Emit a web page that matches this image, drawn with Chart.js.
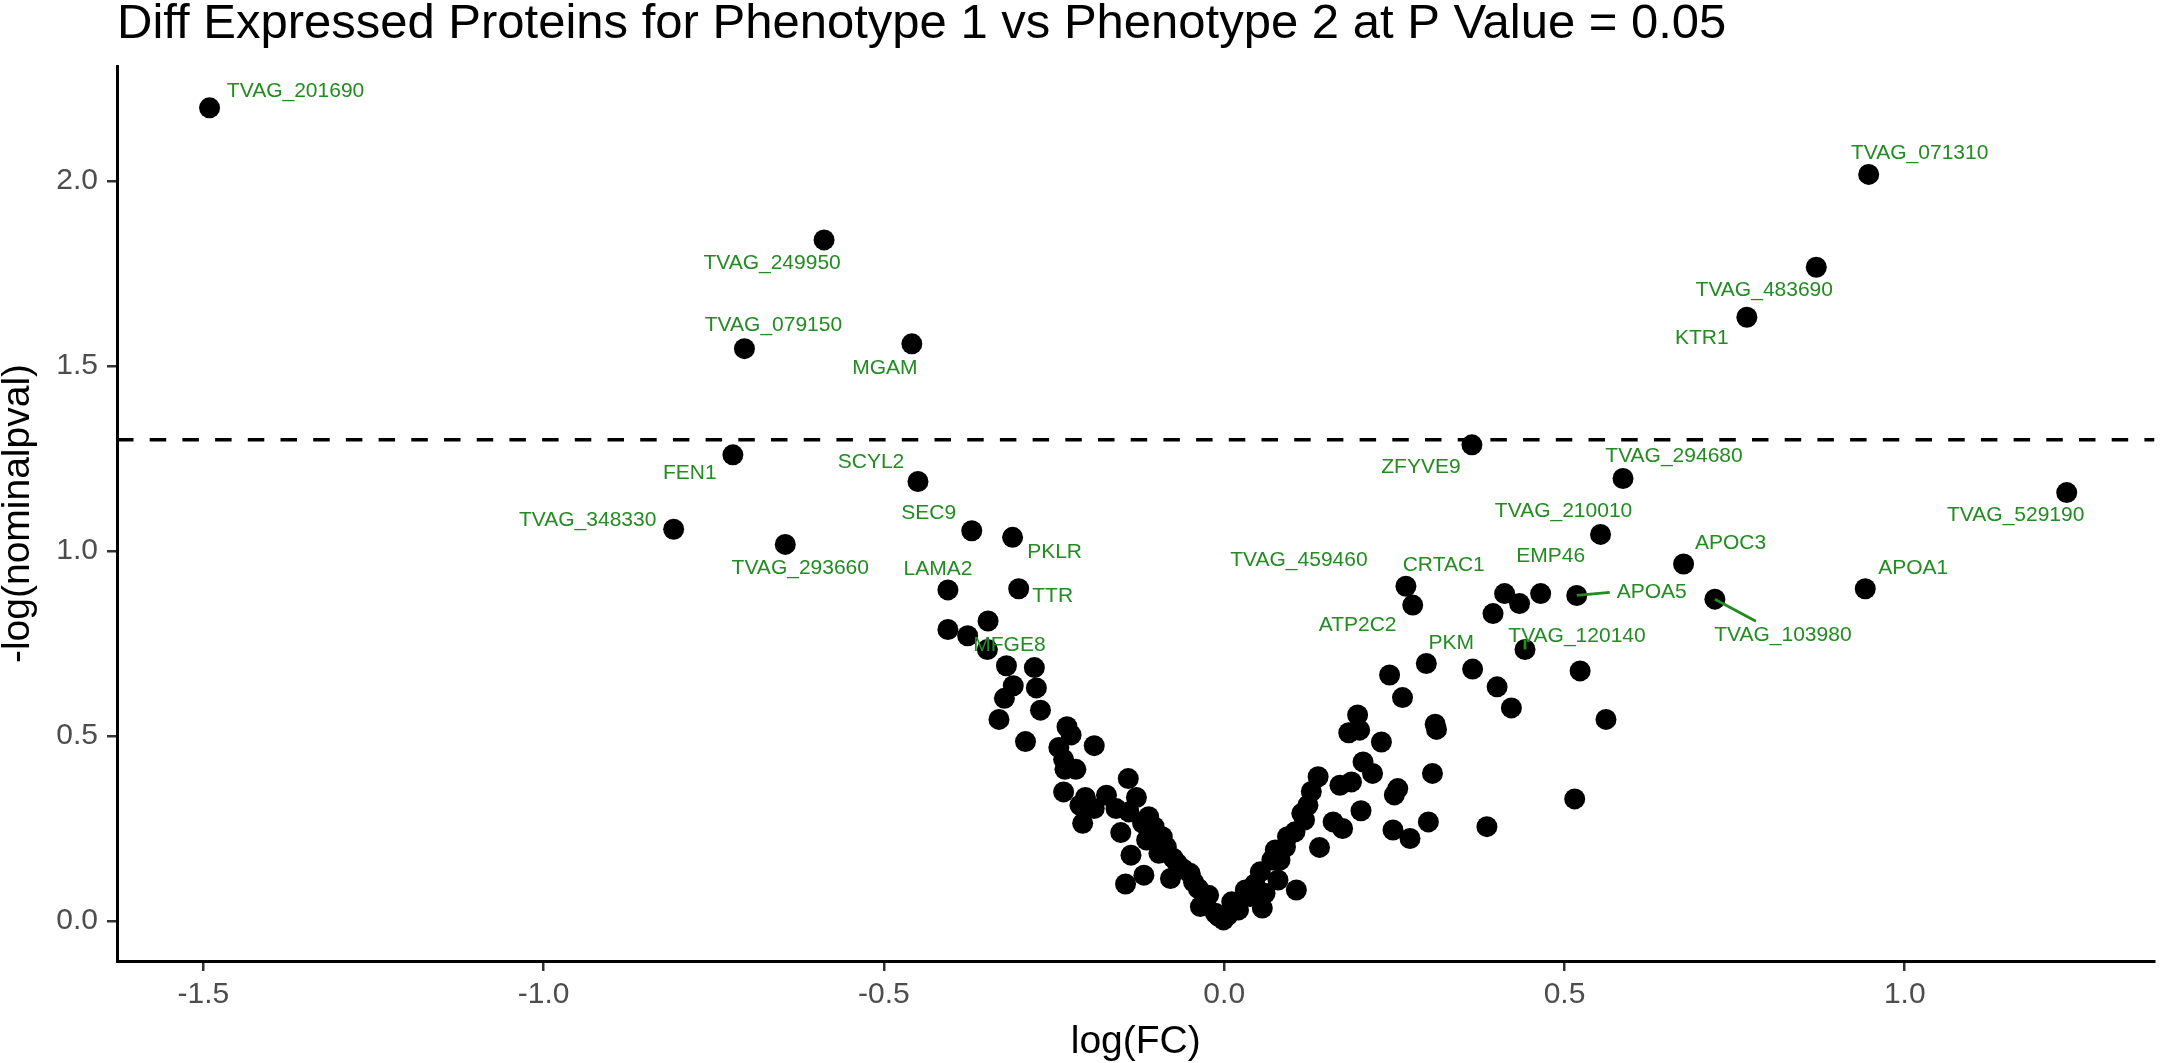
<!DOCTYPE html>
<html>
<head>
<meta charset="utf-8">
<script src="https://cdn.jsdelivr.net/npm/chart.js@4.4.1/dist/chart.umd.min.js"></script>
<style>
  html, body { margin: 0; padding: 0; background: #fff; }
  canvas { display: block; }
</style>
</head>
<body>
<canvas id="volcano" width="2165" height="1063"></canvas>
<script>
// labelled proteins
const geneNames = ['TVAG_201690', 'TVAG_071310', 'TVAG_249950', 'TVAG_079150', 'MGAM', 'FEN1', 'TVAG_348330', 'TVAG_293660', 'SCYL2', 'SEC9',
  'PKLR', 'LAMA2', 'TTR', 'MFGE8', 'ZFYVE9', 'TVAG_294680', 'TVAG_529190', 'TVAG_210010', 'APOC3', 'APOA1',
  'APOA5', 'TVAG_103980', 'EMP46', 'CRTAC1', 'TVAG_459460', 'ATP2C2', 'PKM', 'TVAG_120140', 'TVAG_483690', 'KTR1'];
const geneLogFC = [-1.491, 0.947, -0.588, -0.705, -0.459, -0.722, -0.809, -0.645, -0.450, -0.371,
  -0.311, -0.406, -0.302, -0.348, 0.364, 0.586, 1.238, 0.553, 0.675, 0.942,
  0.518, 0.721, 0.465, 0.277, 0.267, 0.243, 0.297, 0.442, 0.870, 0.768];
const geneNegLogP = [2.198, 2.018, 1.841, 1.547, 1.560, 1.260, 1.059, 1.018, 1.188, 1.055,
  1.037, 0.895, 0.898, 0.734, 1.287, 1.196, 1.158, 1.045, 0.965, 0.898,
  0.880, 0.870, 0.885, 0.854, 0.905, 0.665, 0.696, 0.734, 1.767, 1.632];

// all other proteins
const otherLogFC = [-0.347, -0.406, -0.377, -0.320, -0.279, -0.310, -0.276, -0.323, -0.270, -0.331,
  -0.292, -0.231, -0.225, -0.243, -0.191, -0.236, -0.234, -0.218, -0.141, -0.236,
  -0.204, -0.173, -0.129, -0.212, -0.191, -0.159, -0.140, -0.111, -0.208, -0.152,
  -0.103, -0.091, -0.114, -0.137, -0.096, -0.118, -0.145, -0.079, -0.069, -0.050,
  -0.038, -0.023, -0.035, -0.013, -0.001, 0.011, -0.085, -0.075, -0.060, -0.045,
  -0.028, -0.008, -0.100, -0.120,
  0.412, 0.434, 0.395, 0.365, 0.523, 0.401, 0.422, 0.561, 0.310, 0.312,
  0.306, 0.515, 0.386, 0.300, 0.262, 0.196, 0.183, 0.199, 0.231, 0.204,
  0.218, 0.138, 0.170, 0.187, 0.255, 0.250, 0.123, 0.201, 0.114, 0.160,
  0.174, 0.248, 0.273, 0.104, 0.140, 0.075, 0.082, 0.106, 0.053, 0.079,
  0.060, 0.038, 0.021, 0.013, 0.031, 0.070, 0.118, 0.128, 0.093, 0.090,
  0.045, 0.005, 0.056];
const otherNegLogP = [0.811, 0.788, 0.771, 0.690, 0.685, 0.636, 0.630, 0.602, 0.570, 0.545,
  0.485, 0.525, 0.503, 0.469, 0.474, 0.437, 0.410, 0.410, 0.385, 0.349,
  0.334, 0.340, 0.334, 0.313, 0.304, 0.304, 0.295, 0.282, 0.264, 0.239,
  0.255, 0.228, 0.219, 0.178, 0.183, 0.124, 0.100, 0.115, 0.156, 0.129,
  0.088, 0.070, 0.039, 0.021, 0.003, 0.052, 0.200, 0.170, 0.140, 0.105,
  0.058, 0.012, 0.215, 0.265,
  0.885, 0.858, 0.831, 0.681, 0.676, 0.633, 0.576, 0.545, 0.532, 0.518,
  0.399, 0.330, 0.255, 0.268, 0.604, 0.557, 0.509, 0.516, 0.484, 0.430,
  0.399, 0.390, 0.367, 0.376, 0.358, 0.341, 0.313, 0.298, 0.291, 0.268,
  0.250, 0.246, 0.223, 0.241, 0.199, 0.192, 0.165, 0.084, 0.133, 0.111,
  0.075, 0.066, 0.030, 0.048, 0.084, 0.165, 0.273, 0.350, 0.228, 0.200,
  0.100, 0.015, 0.035];

const xTicks = [-1.5, -1.0, -0.5, 0.0, 0.5, 1.0];
const yTicks = [0.0, 0.5, 1.0, 1.5, 2.0];
const pCutoff = 0.05;

// where each label sits relative to its point (px), plus optional leader line end
const labelOffsets = [[86, -17], [51, -21], [-52, 23], [29, -23], [-27, 24], [-43, 18], [-86, -9], [15, 24], [-47, -19], [-43, -18],
  [42, 15], [-10, -21], [34, 7], [22, -4], [-51, 22], [51, -22], [-51, 23], [-37, -23], [47, -21], [48, -21],
  [75, -3], [68, 36], [10, -37], [31, -40], [-107, -26], [-32, -50], [25, -20], [52, -13], [-52, 23], [-45, 21]];
const leaderEnds = { 'APOA5': [33, -3], 'TVAG_103980': [41, 22], 'TVAG_120140': [0, -10] };

const FONT = "'Liberation Sans', Arial, Helvetica, sans-serif";
const cutoffY = -Math.log10(pCutoff);
const xMin = -1.627, xMax = 1.367;

const points = [];
geneLogFC.forEach((v, i) => points.push({ x: v, y: geneNegLogP[i] }));
otherLogFC.forEach((v, i) => points.push({ x: v, y: otherNegLogP[i] }));

const textPlugin = {
  id: 'textPlugin',
  afterDatasetsDraw(chart) {
    const ctx = chart.ctx;
    const sx = chart.scales.x, sy = chart.scales.y;
    const area = chart.chartArea;
    ctx.save();
    // leader lines then labels
    ctx.strokeStyle = '#228B22';
    ctx.lineWidth = 2.8;
    geneNames.forEach((name, i) => {
      const end = leaderEnds[name];
      if (!end) return;
      const px = sx.getPixelForValue(geneLogFC[i]);
      const py = sy.getPixelForValue(geneNegLogP[i]);
      ctx.beginPath();
      ctx.moveTo(px, py);
      ctx.lineTo(px + end[0], py + end[1]);
      ctx.stroke();
    });
    ctx.fillStyle = '#228B22';
    ctx.font = '21px ' + FONT;
    ctx.textAlign = 'center';
    ctx.textBaseline = 'middle';
    geneNames.forEach((name, i) => {
      const px = sx.getPixelForValue(geneLogFC[i]);
      const py = sy.getPixelForValue(geneNegLogP[i]);
      ctx.fillText(name, px + labelOffsets[i][0], py + labelOffsets[i][1]);
    });

    // titles
    ctx.fillStyle = '#000';
    ctx.textAlign = 'left';
    ctx.textBaseline = 'alphabetic';
    ctx.font = '49px ' + FONT;
    ctx.fillText('Diff Expressed Proteins for Phenotype 1 vs Phenotype 2 at P Value = 0.05', area.left, 38);

    ctx.font = '39px ' + FONT;
    ctx.textAlign = 'center';
    ctx.fillText('log(FC)', (area.left + area.right) / 2, 1053);
    ctx.translate(29, (area.top + area.bottom) / 2);
    ctx.rotate(-Math.PI / 2);
    ctx.fillText('-log(nominalpval)', 0, 0);
    ctx.restore();
  }
};

new Chart(document.getElementById('volcano'), {
  type: 'scatter',
  data: {
    datasets: [
      {
        data: points,
        backgroundColor: '#000',
        borderWidth: 0,
        pointRadius: 10.5,
        pointHoverRadius: 10.5,
        order: 2
      },
      {
        type: 'line',
        data: [{ x: xMin, y: cutoffY }, { x: xMax, y: cutoffY }],
        borderColor: '#000',
        borderWidth: 3.5,
        borderDash: [16.5, 16.2],
        pointRadius: 0,
        fill: false,
        order: 1
      }
    ]
  },
  options: {
    responsive: false,
    animation: false,
    devicePixelRatio: 1,
    layout: { padding: { top: 66, left: 0, right: 0, bottom: 0 } },
    plugins: { legend: { display: false }, tooltip: { enabled: false } },
    scales: {
      x: {
        type: 'linear',
        min: xMin,
        max: xMax,
        afterBuildTicks: s => { s.ticks = xTicks.map(v => ({ value: v })); },
        afterFit: s => { s.height = 102; },
        border: { display: true, color: '#000', width: 3 },
        grid: { drawOnChartArea: false, drawTicks: true, tickLength: 10, color: '#333', lineWidth: 2.5 },
        ticks: {
          autoSkip: false, maxRotation: 0, padding: 6,
          color: '#4D4D4D', font: { family: FONT, size: 30 },
          callback: v => v.toFixed(1)
        }
      },
      y: {
        type: 'linear',
        min: -0.108,
        max: 2.311,
        afterBuildTicks: s => { s.ticks = yTicks.map(v => ({ value: v })); },
        afterFit: s => { s.width = 117; },
        border: { display: true, color: '#000', width: 3 },
        grid: { drawOnChartArea: false, drawTicks: true, tickLength: 10, color: '#333', lineWidth: 2.5 },
        ticks: {
          autoSkip: false, padding: 9,
          color: '#4D4D4D', font: { family: FONT, size: 30 },
          callback: v => v.toFixed(1)
        }
      }
    }
  },
  plugins: [textPlugin]
});
</script>
</body>
</html>
